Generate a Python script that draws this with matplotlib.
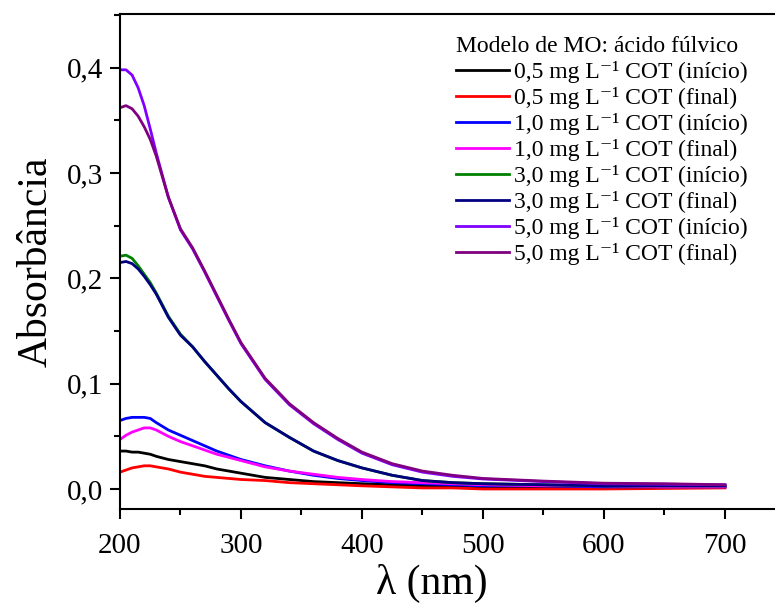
import numpy as np
import matplotlib
matplotlib.use("Agg")
import matplotlib.pyplot as plt
from matplotlib.ticker import MultipleLocator, FuncFormatter

plt.rcParams["font.family"] = ["Liberation Serif", "DejaVu Serif"]

# comprimento de onda (nm)
wl = [200, 205, 210, 215, 220, 225, 230, 240, 250, 260, 270, 280, 290, 300,
      320, 340, 360, 380, 400, 425, 450, 475, 500, 550, 600, 650, 700]

abs_05_ini = [0.036, 0.036, 0.035, 0.035, 0.034, 0.033, 0.031, 0.028, 0.026, 0.024, 0.022, 0.019, 0.017, 0.015,
              0.011, 0.009, 0.007, 0.006, 0.005, 0.004, 0.003, 0.003, 0.002, 0.002, 0.002, 0.002, 0.002]
abs_05_fin = [0.016, 0.018, 0.020, 0.021, 0.022, 0.022, 0.021, 0.019, 0.016, 0.014, 0.012, 0.011, 0.010, 0.009,
              0.008, 0.006, 0.005, 0.004, 0.003, 0.002, 0.001, 0.001, 0.000, 0.000, 0.000, 0.0005, 0.001]
abs_10_ini = [0.065, 0.067, 0.068, 0.068, 0.068, 0.067, 0.063, 0.056, 0.051, 0.046, 0.041, 0.036, 0.032, 0.028,
              0.022, 0.017, 0.013, 0.010, 0.008, 0.006, 0.005, 0.004, 0.003, 0.003, 0.002, 0.002, 0.002]
abs_10_fin = [0.047, 0.051, 0.054, 0.056, 0.058, 0.058, 0.056, 0.050, 0.045, 0.041, 0.037, 0.033, 0.030, 0.027,
              0.021, 0.017, 0.014, 0.011, 0.009, 0.007, 0.006, 0.005, 0.004, 0.003, 0.003, 0.002, 0.002]
abs_30_ini = [0.221, 0.222, 0.219, 0.212, 0.204, 0.196, 0.186, 0.164, 0.147, 0.135, 0.121, 0.108, 0.095, 0.083,
              0.063, 0.049, 0.036, 0.027, 0.020, 0.013, 0.008, 0.006, 0.005, 0.004, 0.003, 0.003, 0.003]
abs_30_fin = [0.215, 0.216, 0.214, 0.209, 0.202, 0.194, 0.185, 0.163, 0.146, 0.135, 0.121, 0.108, 0.095, 0.083,
              0.063, 0.049, 0.036, 0.027, 0.020, 0.013, 0.008, 0.006, 0.005, 0.004, 0.003, 0.003, 0.003]
abs_50_ini = [0.398, 0.398, 0.393, 0.381, 0.364, 0.342, 0.319, 0.277, 0.246, 0.228, 0.206, 0.183, 0.160, 0.138,
              0.104, 0.080, 0.062, 0.047, 0.034, 0.023, 0.016, 0.012, 0.0095, 0.007, 0.005, 0.0045, 0.004]
abs_50_fin = [0.362, 0.364, 0.361, 0.354, 0.344, 0.332, 0.316, 0.277, 0.247, 0.229, 0.207, 0.184, 0.161, 0.139,
              0.105, 0.081, 0.063, 0.048, 0.035, 0.024, 0.017, 0.013, 0.010, 0.0075, 0.0055, 0.005, 0.004]

series = [
    (abs_05_ini, "#000000", "0,5 mg L⁻¹ COT (início)"),
    (abs_05_fin, "#FF0000", "0,5 mg L⁻¹ COT (final)"),
    (abs_10_ini, "#0000FF", "1,0 mg L⁻¹ COT (início)"),
    (abs_10_fin, "#FF00FF", "1,0 mg L⁻¹ COT (final)"),
    (abs_30_ini, "#008000", "3,0 mg L⁻¹ COT (início)"),
    (abs_30_fin, "#000080", "3,0 mg L⁻¹ COT (final)"),
    (abs_50_ini, "#8000FF", "5,0 mg L⁻¹ COT (início)"),
    (abs_50_fin, "#800080", "5,0 mg L⁻¹ COT (final)"),
]

fig = plt.figure(figsize=(7.75, 6.03), dpi=100)
# eixo direito fica fora da figura
ax = fig.add_axes([0.1548, 0.1559, 0.8587, 0.8209])

for y, c, lab in series:
    ax.plot(wl, y, color=c, lw=2.0, label=lab)

ax.set_xlim(200, 750)
ax.set_ylim(-0.019, 0.451)
ax.xaxis.set_major_locator(MultipleLocator(100))
ax.xaxis.set_minor_locator(MultipleLocator(50))
ax.yaxis.set_major_locator(MultipleLocator(0.1))
ax.yaxis.set_minor_locator(MultipleLocator(0.05))
ax.yaxis.set_major_formatter(FuncFormatter(lambda v, p: f"{v:.1f}".replace(".", ",")))

ax.tick_params(which="major", direction="out", length=7, width=1.5, labelsize=21)
ax.tick_params(axis="x", which="major", pad=10)
ax.tick_params(axis="y", which="major", pad=5)
ax.tick_params(which="minor", direction="out", length=4, width=1.5)
ax.tick_params(top=False, right=False)
for s in ax.spines.values():
    s.set_linewidth(1.5)

ax.set_xlabel("λ (nm)", fontsize=30)
ax.xaxis.set_label_coords(0.468, -0.112)
ax.set_ylabel("Absorbância", fontsize=30, labelpad=8)

leg = ax.legend(loc="upper left", bbox_to_anchor=(0.4853, 0.981), frameon=False,
                title="Modelo de MO: ácido fúlvico", title_fontsize=17, fontsize=17,
                handlelength=2.25, handletextpad=0.2, labelspacing=0.17,
                borderpad=0.55, borderaxespad=0)
leg._legend_box.align = "left"

fig.savefig("out.png", dpi=100)
